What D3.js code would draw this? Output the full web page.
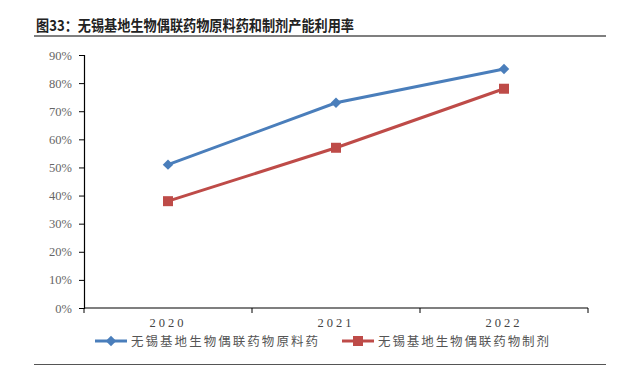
<!DOCTYPE html>
<html>
<head>
<meta charset="utf-8">
<script src="https://cdn.jsdelivr.net/npm/d3@7"></script>
<style>
  body { margin: 0; background: #fff; }
  svg { display: block; }
</style>
</head>
<body>
<div id="chart"></div>
<script>
// chart data
const years = ["2020", "2021", "2022"];
const apiRate = [0.51, 0.73, 0.85];      // 原料药
const drugRate = [0.38, 0.57, 0.78];     // 制剂
const seriesNames = ["无锡基地生物偶联药物原料药", "无锡基地生物偶联药物制剂"];
const yTicks = [0, 0.1, 0.2, 0.3, 0.4, 0.5, 0.6, 0.7, 0.8, 0.9];
const titleText = "图33：无锡基地生物偶联药物原料药和制剂产能利用率";

const width = 637, height = 367;
const plot = { left: 84, right: 588, top: 55, bottom: 308 };
const colors = ["#4A7EBB", "#BE4B48"];

const svg = d3.select("#chart").append("svg")
  .attr("width", width)
  .attr("height", height);

// title + rules
svg.append("text")
  .attr("x", 36).attr("y", 31)
  .attr("textLength", 318)
  .attr("lengthAdjust", "spacingAndGlyphs")
  .style("font-family", "'Noto Sans CJK SC', sans-serif")
  .style("font-weight", "bold")
  .style("font-size", "15px")
  .attr("fill", "#222")
  .text(titleText);

svg.append("line")
  .attr("x1", 34).attr("x2", 606).attr("y1", 36).attr("y2", 36)
  .attr("stroke", "#555").attr("stroke-width", 1.5);

svg.append("line")
  .attr("x1", 34).attr("x2", 606).attr("y1", 364.5).attr("y2", 364.5)
  .attr("stroke", "#555").attr("stroke-width", 1.2);

const x = d3.scaleBand().domain(years).range([plot.left, plot.right]);
const y = d3.scaleLinear().domain([0, 0.9]).range([plot.bottom, plot.top]);

// y axis
const yAxis = svg.append("g")
  .attr("transform", `translate(${plot.left},0)`)
  .call(d3.axisLeft(y).tickValues(yTicks).tickFormat(d3.format(".0%")).tickSize(5).tickPadding(7));
yAxis.select(".domain").attr("stroke", "#000").attr("stroke-width", 1.2);
yAxis.selectAll(".tick line").attr("stroke", "#000");
yAxis.selectAll("text")
  .style("font-family", "'Liberation Serif', serif")
  .style("font-size", "12.5px")
  .attr("fill", "#666");

// x axis
const xAxis = svg.append("g")
  .attr("transform", `translate(0,${plot.bottom})`)
  .call(d3.axisBottom(x).tickSize(0).tickPadding(10));
xAxis.select(".domain").attr("stroke", "#000").attr("stroke-width", 1.2)
  .attr("d", `M${plot.left},0H${plot.right}`);
xAxis.selectAll("text")
  .style("font-family", "'Liberation Serif', serif")
  .style("font-size", "12.5px")
  .style("letter-spacing", "3px")
  .attr("fill", "#444");
// category boundary ticks
xAxis.append("g").selectAll("line")
  .data(years.concat(["end"]))
  .join("line")
  .attr("x1", (d, i) => i < years.length ? x(d) : plot.right)
  .attr("x2", (d, i) => i < years.length ? x(d) : plot.right)
  .attr("y1", 0).attr("y2", 5)
  .attr("stroke", "#000");

const line = d3.line()
  .x((d, i) => x(years[i]) + x.bandwidth() / 2)
  .y(d => y(d));

const allSeries = [apiRate, drugRate];

allSeries.forEach((vals, si) => {
  svg.append("path")
    .datum(vals)
    .attr("d", line)
    .attr("fill", "none")
    .attr("stroke", colors[si])
    .attr("stroke-width", 3);
});

// markers
const diamond = d3.symbol().type(d3.symbolDiamond2).size(70);
const square = d3.symbol().type(d3.symbolSquare).size(100);

svg.append("g").selectAll("path")
  .data(apiRate)
  .join("path")
  .attr("d", diamond)
  .attr("transform", (d, i) => `translate(${x(years[i]) + x.bandwidth() / 2},${y(d)})`)
  .attr("fill", colors[0]);

svg.append("g").selectAll("path")
  .data(drugRate)
  .join("path")
  .attr("d", square)
  .attr("transform", (d, i) => `translate(${x(years[i]) + x.bandwidth() / 2},${y(d)})`)
  .attr("fill", colors[1]);

// legend
const legendY = 341;
const legendItems = [
  { x0: 95, sym: diamond, len: 187 },
  { x0: 342, sym: square, len: 171 }
];
legendItems.forEach((it, i) => {
  const g = svg.append("g");
  g.append("line")
    .attr("x1", it.x0).attr("x2", it.x0 + 32)
    .attr("y1", legendY).attr("y2", legendY)
    .attr("stroke", colors[i]).attr("stroke-width", 3);
  g.append("path")
    .attr("d", it.sym)
    .attr("transform", `translate(${it.x0 + 16},${legendY})`)
    .attr("fill", colors[i]);
  g.append("text")
    .attr("x", it.x0 + 36).attr("y", legendY + 4.5)
    .attr("textLength", it.len)
    .attr("lengthAdjust", "spacing")
    .style("font-family", "'Noto Sans CJK SC', sans-serif")
    .style("font-size", "12.5px")
    .attr("fill", "#555")
    .text(seriesNames[i]);
});
</script>
</body>
</html>
